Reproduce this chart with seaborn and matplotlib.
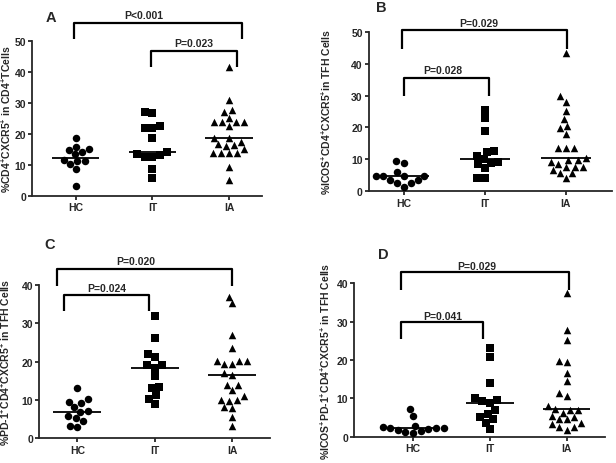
import numpy as np
import pandas as pd
import matplotlib
matplotlib.use("Agg")
import matplotlib.pyplot as plt
import seaborn as sns

# groups and markers
groups = ["HC", "IT", "IA"]
markers = ["o", "s", "^"]

# panel A: %CD4+CXCR5+ in CD4+ T cells
a_hc = [18.8, 15.8, 14.9, 13.4, 14.1, 15.2, 11.1, 10.2, 11.2, 8.5, 11.7, 3.0]
a_it = [27.2, 26.7, 22.6, 22.0, 22.0, 18.8, 14.0, 13.3, 12.5, 12.5, 13.6, 8.7, 5.6]
a_ia = [41.8, 31.0, 27.8, 27.0, 25.1, 24.0, 23.7, 22.6, 23.7, 24.0, 18.6, 18.8,
        15.0, 16.8, 16.4, 16.1, 17.5, 13.9, 13.9, 13.9, 13.9, 9.4, 5.2]
a_lines = [12.3, 14.0, 18.8]

# panel B: %ICOS+CD4+CXCR5+ in TFH cells
b_hc = [9.0, 9.4, 4.9, 4.9, 4.9, 4.9, 5.9, 3.6, 2.6, 2.6, 3.6, 1.4]
b_it = [25.4, 22.8, 19.0, 12.5, 12.3, 11.1, 9.3, 8.5, 10.1, 8.9, 7.3, 4.1, 4.2]
b_ia = [43.3, 29.7, 28.0, 25.2, 22.6, 20.5, 19.7, 18.1, 13.5, 13.5, 13.5, 10.5,
        9.9, 9.9, 9.1, 8.6, 7.7, 7.7, 7.7, 6.8, 5.6, 5.6, 4.1]
b_lines = [4.9, 10.1, 10.5]

# panel C: %PD-1+CD4+CXCR5+ in TFH cells
c_hc = [13.1, 8.1, 10.2, 9.2, 9.5, 6.8, 7.0, 4.4, 5.7, 5.2, 3.0, 3.3]
c_it = [32.0, 26.3, 22.0, 21.1, 19.2, 19.0, 18.3, 16.3, 13.4, 13.0, 11.3, 10.3, 9.0]
c_ia = [37.0, 35.2, 27.0, 23.5, 20.2, 19.4, 19.4, 20.2, 20.2, 16.6, 17.0, 14.0,
        14.0, 12.6, 11.0, 10.0, 9.8, 10.0, 8.1, 8.0, 5.6, 3.2]
c_lines = [6.9, 18.3, 16.5]

# panel D: %ICOS+PD-1+CD4+CXCR5+ in TFH cells
d_hc = [7.1, 5.3, 2.8, 2.6, 2.3, 2.2, 2.2, 2.0, 1.8, 1.5, 1.2, 0.9]
d_it = [23.2, 20.8, 13.9, 10.0, 9.3, 9.5, 8.9, 7.0, 6.0, 5.1, 4.5, 3.7, 2.0]
d_ia = [37.4, 27.7, 25.3, 19.7, 19.6, 16.7, 14.5, 11.3, 10.5, 8.0, 7.0, 7.0,
        7.1, 6.3, 5.4, 4.6, 4.6, 5.2, 3.5, 3.3, 2.4, 1.8, 2.4]
d_lines = [2.2, 8.9, 7.1]

ylabels = [
    r"%CD4$^{+}$CXCR5$^{+}$ in CD4$^{+}$TCells",
    r"%ICOS$^{+}$CD4$^{+}$CXCR5$^{+}$in TFH Cells",
    r"%PD-1$^{+}$CD4$^{+}$CXCR5$^{+}$ in TFH Cells",
    r"%ICOS$^{+}$PD-1$^{+}$CD4$^{+}$CXCR5$^{+}$ in TFH Cells",
]
panel_letters = ["A", "B", "C", "D"]
y_max = [50, 50, 40, 40]

sns.set_style("ticks")
plt.rcParams["font.family"] = ["Liberation Sans", "DejaVu Sans"]
plt.rcParams["font.weight"] = "bold"
plt.rcParams["mathtext.fontset"] = "custom"
plt.rcParams["mathtext.rm"] = "Liberation Sans:bold"
plt.rcParams["mathtext.bf"] = "Liberation Sans:bold"
plt.rcParams["mathtext.default"] = "bf"


def make_df(hc, it, ia):
    return pd.DataFrame({
        "group": ["HC"] * len(hc) + ["IT"] * len(it) + ["IA"] * len(ia),
        "value": hc + it + ia,
    })


def bracket(ax, x1, x2, y_top, y_leg, label, tx, ty):
    ax.plot([x1, x1, x2, x2], [y_leg, y_top, y_top, y_leg], color="black",
            lw=1.6, clip_on=False, solid_capstyle="butt")
    ax.text(tx, ty, label, ha="center", va="center", fontsize=7.5,
            fontweight="bold", clip_on=False)


fig = plt.figure(figsize=(6.16, 4.64), dpi=100)

# axes rectangles in figure fraction
rects = [
    [0.0524, 0.576, 0.373, 0.333],
    [0.599, 0.5856, 0.394, 0.344],
    [0.0638, 0.0532, 0.3745, 0.3304],
    [0.575, 0.0567, 0.407, 0.3306],
]
xlims = [(-0.566, 2.43), (-0.432, 2.568), (-0.491, 2.491), (-0.769, 2.5)]
label_x = [-0.085, -0.15, -0.118, -0.09]
letter_pos = [(0.082, 0.9606), (0.6197, 0.982), (0.080, 0.472), (0.623, 0.450)]

panels = [
    (a_hc, a_it, a_ia, a_lines),
    (b_hc, b_it, b_ia, b_lines),
    (c_hc, c_it, c_ia, c_lines),
    (d_hc, d_it, d_ia, d_lines),
]

brackets = [
    [(-0.02, 2.17, 55.9, 50.7, "P<0.001", 0.89, 58.6),
     (0.98, 2.10, 46.9, 41.5, "P=0.023", 1.54, 49.4)],
    [(-0.03, 2.01, 50.5, 44.5, "P=0.029", 0.93, 52.7),
     (0.0, 1.05, 35.4, 29.9, "P=0.028", 0.485, 38.0)],
    [(-0.266, 2.0, 44.2, 39.8, "P=0.020", 0.755, 46.2),
     (-0.172, 0.923, 37.5, 33.3, "P=0.024", 0.38, 39.1)],
    [(-0.16, 2.03, 43.0, 38.3, "P=0.029", 0.83, 44.6),
     (-0.16, 0.905, 30.0, 25.5, "P=0.041", 0.38, 31.6)],
]

for i, (hc, it, ia, lines) in enumerate(panels):
    ax = fig.add_axes(rects[i])
    df = make_df(hc, it, ia)
    for g, m in zip(groups, markers):
        sns.swarmplot(data=df[df["group"] == g], x="group", y="value",
                      order=groups, marker=m, color="black", size=5.4,
                      linewidth=0, ax=ax)
    # centre lines
    for k, v in enumerate(lines):
        ax.hlines(v, k - 0.31, k + 0.31, color="black", lw=1.3)

    ax.set_xlim(*xlims[i])
    ax.set_ylim(0, y_max[i])
    ax.set_yticks(np.arange(0, y_max[i] + 1, 10))
    ax.set_xticks(range(3))
    ax.set_xticklabels(groups)
    ax.set_xlabel("")
    ax.set_ylabel(ylabels[i], fontsize=7.5, fontweight="bold")
    ax.yaxis.set_label_coords(label_x[i], 0.5)
    for s in ["top", "right"]:
        ax.spines[s].set_visible(False)
    for s in ["left", "bottom"]:
        ax.spines[s].set_linewidth(1.3)
    ax.tick_params(axis="both", labelsize=7.5, width=1.3, length=3, pad=1.5)
    for lab in ax.get_xticklabels() + ax.get_yticklabels():
        lab.set_fontweight("bold")

    for br in brackets[i]:
        bracket(ax, *br)

    fig.text(letter_pos[i][0], letter_pos[i][1], panel_letters[i],
             fontsize=10.5, fontweight="bold", ha="center", va="center")

fig.savefig("out.png", dpi=100)
